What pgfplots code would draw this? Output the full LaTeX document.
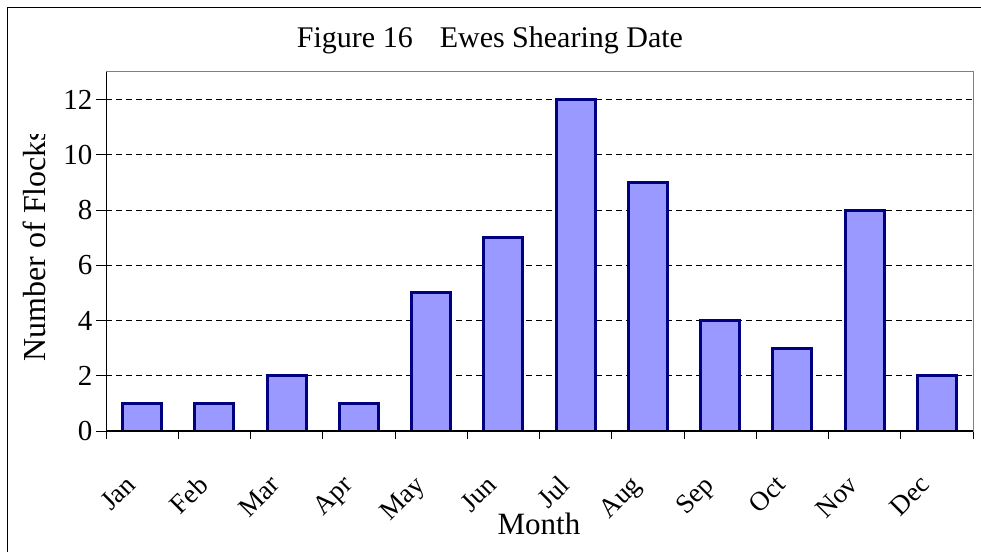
\documentclass[border=0pt]{standalone}
\usepackage{pgfplots}
\pgfplotsset{compat=1.18}
\usepackage{fontspec}
\setmainfont{Liberation Serif}
\definecolor{barfill}{HTML}{9999FF}
\definecolor{baredge}{HTML}{000080}
\begin{document}
\begin{tikzpicture}[x=1pt,y=1pt]
\useasboundingbox (0,0) rectangle (981,551);
\draw[black,line width=1pt] (7.5,-10) -- (7.5,543.5) -- (995,543.5);
\node[font=\fontsize{30}{36}\selectfont] at (490,511) {Figure 16\hspace{0.9em}Ewes Shearing Date};
\node[font=\fontsize{31}{36}\selectfont] at (539,27) {Month};
\begin{scope}
\clip (0,0) rectangle (100,416);
\node[font=\fontsize{32}{36}\selectfont,rotate=90] at (34,306) {Number of Flocks};
\end{scope}
\begin{axis}[
  at={(106pt,120pt)}, anchor=south west,
  scale only axis, width=867pt, height=359pt,
  xmin=-0.5, xmax=11.5, ymin=0, ymax=13,
  ybar, bar width=39pt,
  axis line style={draw=gray, line width=1pt},
  xtick={0,...,11},
  xticklabels={Jan,Feb,Mar,Apr,May,Jun,Jul,Aug,Sep,Oct,Nov,Dec},
  minor xtick={-0.5,0.5,...,11.5},
  major x tick style={draw=none},
  minor x tick style={black, line width=1pt},
  ytick={0,2,...,12},
  y tick style={black, line width=1pt},
  major tick length=10pt, minor tick length=8pt,
  tick align=outside, tick pos=left,
  ymajorgrids, grid style={black, dashed, line width=0.8pt, dash pattern=on 6pt off 4pt},
  xticklabel style={font=\fontsize{27}{30}\selectfont, xshift=-18pt, yshift=-28pt, rotate=45, anchor=north east},
  yticklabel style={font=\fontsize{29}{32}\selectfont},
  /pgf/number format/assume math mode=true,
]
\addplot[fill=barfill, draw=baredge, line width=3pt] coordinates {
(0,1) (1,1) (2,2) (3,1) (4,5) (5,7) (6,12) (7,9) (8,4) (9,3) (10,8) (11,2)};
\draw[black, line width=1.2pt] (rel axis cs:0,1) -- (rel axis cs:0,0) -- (rel axis cs:1,0);
\end{axis}
\end{tikzpicture}
\end{document}
